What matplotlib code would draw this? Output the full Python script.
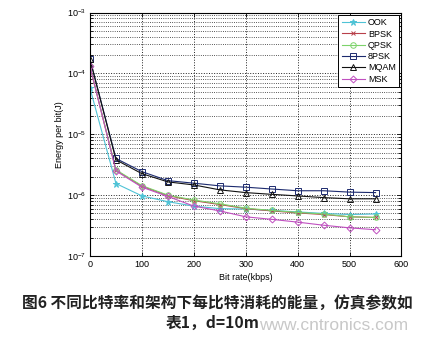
import matplotlib
matplotlib.use("Agg")
import matplotlib.pyplot as plt
from matplotlib.ticker import LogLocator, FixedLocator, NullFormatter

# Bit rate (kbps)
bit_rate = [0, 50, 100, 150, 200, 250, 300, 350, 400, 450, 500, 550]

# Energy per bit (J) for each modulation scheme
ook  = [5.7e-5, 1.55e-6, 9.7e-7, 7.8e-7, 6.6e-7, 6.0e-7, 5.9e-7, 5.6e-7, 5.3e-7, 5.0e-7, 4.8e-7, 4.9e-7]
bpsk = [1.3e-4, 2.55e-6, 1.4e-6, 9.8e-7, 8.1e-7, 7.0e-7, 6.0e-7, 5.5e-7, 5.1e-7, 4.8e-7, 4.4e-7, 4.3e-7]
qpsk = [1.3e-4, 2.6e-6, 1.43e-6, 1.0e-6, 8.3e-7, 7.2e-7, 6.1e-7, 5.6e-7, 5.2e-7, 4.9e-7, 4.4e-7, 4.3e-7]
psk8 = [1.7e-4, 4.0e-6, 2.43e-6, 1.73e-6, 1.57e-6, 1.42e-6, 1.35e-6, 1.26e-6, 1.18e-6, 1.18e-6, 1.12e-6, 1.1e-6]
mqam = [1.7e-4, 3.8e-6, 2.25e-6, 1.65e-6, 1.47e-6, 1.22e-6, 1.1e-6, 1.03e-6, 0.97e-6, 0.91e-6, 0.87e-6, 0.87e-6]
msk  = [1.3e-4, 2.5e-6, 1.35e-6, 9.5e-7, 6.6e-7, 5.5e-7, 4.4e-7, 4.0e-7, 3.6e-7, 3.2e-7, 2.9e-7, 2.7e-7]

series_names = ["OOK", "BPSK", "QPSK", "8PSK", "MQAM", "MSK"]
x_ticks = [0, 100, 200, 300, 400, 500, 600]
caption_line1 = "图6 不同比特率和架构下每比特消耗的能量，仿真参数如"
caption_line2 = "表1，d=10m"
watermark = "www.cntronics.com"

plt.rcParams["font.family"] = ["Liberation Sans", "DejaVu Sans"]

fig = plt.figure(figsize=(4.34, 3.41), dpi=100)
ax = fig.add_axes([0.2074, 0.2493, 0.7177, 0.714])

styles = [
    dict(color="#4fc3d6", marker="*", mfc="#4fc3d6", ms=4.5),
    dict(color="#b8404a", marker="x", mfc="none", ms=3.5),
    dict(color="#7dd36b", marker="o", mfc="none", ms=4),
    dict(color="#1c2a6e", marker="s", mfc="none", ms=5),
    dict(color="#111111", marker="^", mfc="none", ms=4.5),
    dict(color="#c050c0", marker="D", mfc="none", ms=3.5),
]
for vals, name, st in zip([ook, bpsk, qpsk, psk8, mqam, msk], series_names, styles):
    ax.plot(bit_rate, vals, lw=0.8, mew=0.7, label=name, **st)

ax.set_yscale("log")
ax.set_xlim(0, 600)
ax.set_ylim(1e-7, 1e-3)
ax.xaxis.set_major_locator(FixedLocator(x_ticks))
ax.yaxis.set_major_locator(LogLocator(base=10, numticks=10))
ax.yaxis.set_minor_locator(LogLocator(base=10, subs=range(2, 10), numticks=20))
ax.yaxis.set_minor_formatter(NullFormatter())

ax.grid(True, which="major", linestyle=":", color="#222222", lw=0.7)
ax.grid(True, which="minor", axis="y", linestyle=":", color="#222222", lw=0.6)
ax.tick_params(which="both", direction="in", top=True, right=True, labelsize=6.5,
               length=3, width=0.6, pad=3)
ax.tick_params(which="minor", length=2)
for sp in ax.spines.values():
    sp.set_linewidth(0.8)

ax.set_xlabel("Bit rate(kbps)", fontsize=6.5, labelpad=3)
ax.set_ylabel("Energy per bit(J)", fontsize=6.5, labelpad=2)

leg = ax.legend(loc="upper right", fontsize=6.5, handlelength=2.6, handletextpad=0.3,
                borderpad=0.35, labelspacing=0.25, fancybox=False, framealpha=1,
                edgecolor="black", borderaxespad=0.3)
leg.get_frame().set_linewidth(0.7)

fig.text(0.5, 1 - 303 / 341, caption_line1, ha="center", va="center", fontsize=11.3,
         fontweight="bold", family=["Noto Sans CJK SC", "DejaVu Sans"], color="#222222")
fig.text(213 / 434, 1 - 323 / 341, caption_line2, ha="center", va="center", fontsize=11.3,
         fontweight="bold", family=["Noto Sans CJK SC", "DejaVu Sans"], color="#222222")
fig.text(334 / 434, 1 - 325 / 341, watermark, ha="center", va="center", fontsize=12.5,
         color="#c8c8c8", family=["Liberation Sans", "DejaVu Sans"])

fig.savefig("out.png", dpi=100)
